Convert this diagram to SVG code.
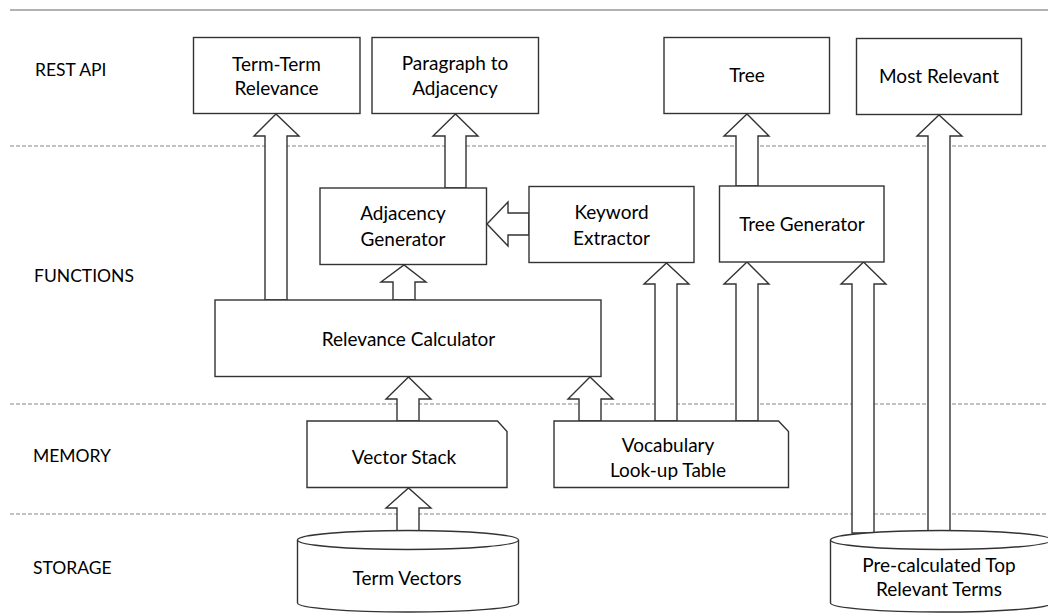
<svg xmlns="http://www.w3.org/2000/svg" width="1048" height="614" viewBox="0 0 1048 614">
<style>
.box{fill:#fff;stroke:#333;stroke-width:1.4}
.arr{fill:#fff;stroke:#333;stroke-width:1.4;stroke-linejoin:miter}
.lane{stroke:#888;stroke-width:1.2;stroke-dasharray:4 2;fill:none}
text{font-family:Lato,"Open Sans","Liberation Sans",sans-serif;font-size:19px;fill:#000}
.lbl{font-size:17.5px}
.c{text-anchor:middle}
</style>
<rect width="1048" height="614" fill="#fff"/>
<g id="lanes">
<line x1="10" y1="10" x2="1048" y2="10" stroke="#999" stroke-width="1.6"/>
<line class="lane" x1="10" y1="146" x2="1048" y2="146"/>
<line class="lane" x1="10" y1="404" x2="1048" y2="404"/>
<line class="lane" x1="10" y1="514" x2="1048" y2="514"/>
<text class="lbl" x="35" y="76">REST API</text>
<text class="lbl" x="34" y="282">FUNCTIONS</text>
<text class="lbl" x="33" y="462">MEMORY</text>
<text class="lbl" x="33" y="574">STORAGE</text>
</g>
<g id="connectors">
<polygon class="arr" points="265,300 265,136 254,136 276,114 299,136 287,136 287,300"/>
<polygon class="arr" points="445,188 445,136 433,136 455.5,114 478,136 466,136 466,188"/>
<polygon class="arr" points="393,300 393,282 381,282 404,265 426,282 415,282 415,300"/>
<polygon class="arr" points="529,213 508,213 508,202 487,224 508,246 508,235 529,235"/>
<polygon class="arr" points="736,186 736,136 724,136 747,114 769,136 758,136 758,186"/>
<polygon class="arr" points="928,531 928,136 917,136 939,115 962,136 950,136 950,531"/>
<polygon class="arr" points="655,421 655,284 644,284 666.5,263 689,284 677,284 677,421"/>
<polygon class="arr" points="736,421 736,284 724,284 747,262 769,284 758,284 758,421"/>
<polygon class="arr" points="852,533 852,284 841,284 863.5,262 886,284 874,284 874,533"/>
<polygon class="arr" points="397,421 397,399 386,399 408.5,377 431,399 419,399 419,421"/>
<polygon class="arr" points="579,421 579,399 568,399 590,377 613,399 601,399 601,421"/>
<polygon class="arr" points="397,531 397,508 386,508 408.5,488 431,508 419,508 419,531"/>
</g>
<g id="term-term">
<rect class="box" x="193.5" y="37.5" width="166.5" height="76"/>
<text class="c" x="276.5" y="71">Term-Term</text>
<text class="c" x="276.5" y="95">Relevance</text>
</g>
<g id="paragraph">
<rect class="box" x="372" y="37.5" width="166.5" height="76"/>
<text class="c" x="455" y="70">Paragraph to</text>
<text class="c" x="455" y="95">Adjacency</text>
</g>
<g id="tree">
<rect class="box" x="664" y="37.5" width="165.5" height="76"/>
<text class="c" x="747" y="82">Tree</text>
</g>
<g id="most-relevant">
<rect class="box" x="856.5" y="38.5" width="165" height="76"/>
<text class="c" x="939" y="83">Most Relevant</text>
</g>
<g id="adjacency-generator">
<rect class="box" x="320" y="188" width="166.5" height="76.5"/>
<text class="c" x="403" y="220">Adjacency</text>
<text class="c" x="403" y="245.5">Generator</text>
</g>
<g id="keyword-extractor">
<rect class="box" x="529" y="186.5" width="165" height="76"/>
<text class="c" x="611.5" y="219">Keyword</text>
<text class="c" x="611.5" y="245">Extractor</text>
</g>
<g id="tree-generator">
<rect class="box" x="719.5" y="186" width="164.5" height="76"/>
<text class="c" x="802" y="231">Tree Generator</text>
</g>
<g id="relevance-calculator">
<rect class="box" x="215" y="300" width="386" height="76.5"/>
<text class="c" x="408.5" y="345.5">Relevance Calculator</text>
</g>
<g id="vector-stack">
<path class="box" d="M307,421 H497.5 L507,431.5 V487.5 H307 Z"/>
<text class="c" x="404" y="464">Vector Stack</text>
</g>
<g id="vocabulary">
<path class="box" d="M554,421 H778.5 L788.5,431.5 V487.5 H554 Z"/>
<text class="c" x="668" y="452">Vocabulary</text>
<text class="c" x="668" y="477">Look-up Table</text>
</g>
<g id="term-vectors">
<path class="box" d="M297.5,540 A110.5,9.5 0 0 1 518.5,540 V603 A110.5,9 0 0 1 297.5,603 Z"/>
<path class="box" fill="none" d="M297.5,540 A110.5,9.5 0 0 0 518.5,540"/>
<text class="c" x="407" y="584.5">Term Vectors</text>
</g>
<g id="precalculated">
<path class="box" d="M830.5,540 A110.5,9.5 0 0 1 1051.5,540 V603 A110.5,9 0 0 1 830.5,603 Z"/>
<path class="box" fill="none" d="M830.5,540 A110.5,9.5 0 0 0 1051.5,540"/>
<text class="c" x="939" y="572">Pre-calculated Top</text>
<text class="c" x="939" y="596">Relevant Terms</text>
</g>
</svg>
